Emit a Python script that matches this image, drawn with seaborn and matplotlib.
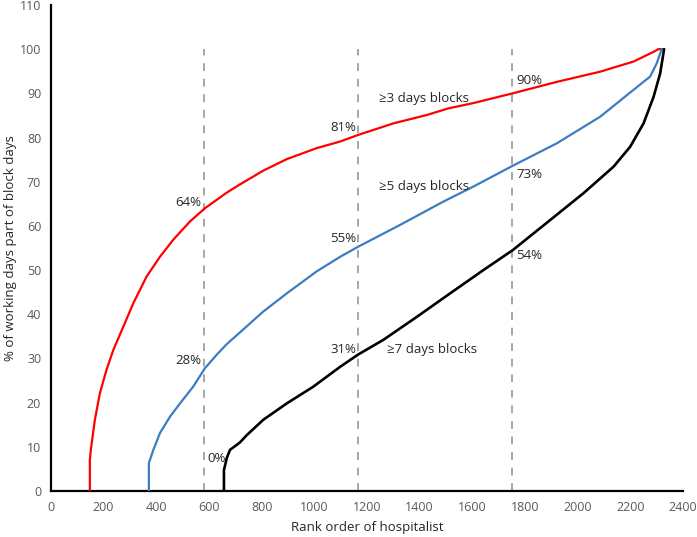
import matplotlib
matplotlib.use("Agg")
import matplotlib.pyplot as plt
import seaborn as sns
import pandas as pd

sns.set_theme(style="white")
plt.rcParams['font.family'] = ['Open Sans', 'DejaVu Sans']

# ---- data ----
red_x = [148, 148, 152, 167, 186, 211, 237, 275, 313, 363, 414, 465, 528, 585, 667,
         718, 806, 895, 1009, 1098, 1167, 1300, 1427, 1509, 1604, 1753, 1921, 2085,
         2212, 2288, 2306, 2328]
red_y = [0, 7, 9.5, 16.1, 22.1, 27.4, 31.9, 37.2, 42.5, 48.5, 53, 56.9, 61.0, 64.0, 67.5,
         69.4, 72.5, 75.1, 77.6, 79.1, 80.6, 83.2, 85.1, 86.6, 87.8, 90, 92.6, 94.9,
         97.2, 99.4, 100, 100]

blue_x = [372, 372, 389, 414, 452, 490, 540, 585, 629, 667, 718, 806, 895, 1009, 1098,
          1167, 1325, 1490, 1604, 1753, 1921, 2085, 2212, 2275, 2300, 2319, 2328]
blue_y = [0, 6.3, 9.3, 13.1, 16.8, 19.8, 23.6, 27.8, 30.8, 33.2, 35.9, 40.6, 44.7, 49.7, 53,
          55.3, 60.2, 65.5, 68.9, 73.6, 78.7, 84.7, 90.8, 93.8, 96.8, 100, 100]

black_x = [657, 657, 668, 680, 718, 743, 806, 895, 996, 1098, 1167, 1262, 1389, 1515,
           1642, 1753, 1895, 2022, 2136, 2199, 2250, 2288, 2313, 2328]
black_y = [0, 4.75, 7.5, 9.3, 11.0, 12.6, 16.1, 19.8, 23.6, 28.1, 30.9, 34.2, 39.4, 44.7,
           50, 54.5, 61.3, 67.4, 73.4, 77.9, 83.2, 89.2, 94.5, 100]

quartiles = [583, 1167, 1750]

pct_labels = ["64%", "28%", "0%", "81%", "55%", "31%", "90%", "73%", "54%"]
pct_x = [572, 572, 594, 1158, 1158, 1158, 1768, 1768, 1768]
pct_y = [65.2, 29.6, 7.4, 82.3, 57.2, 32.0, 92.8, 71.6, 53.2]
pct_ha = ["right", "right", "left", "right", "right", "right", "left", "left", "left"]

series_labels = ["\u22653 days blocks", "\u22655 days blocks", "\u22657 days blocks"]
series_lx = [1417, 1417, 1449]
series_ly = [88.9, 68.9, 32.0]

x_ticks = list(range(0, 2401, 200))
y_ticks = list(range(0, 111, 10))

# ---- plot ----
fig = plt.figure(figsize=(6.97, 5.37), dpi=100)
ax = fig.add_axes([0.073, 0.0857, 0.907, 0.905])

for q in quartiles:
    ax.plot([q, q], [0, 100], color="#A6A6A6", lw=1.4, ls=(0, (4, 4)), zorder=1)

df = pd.concat([
    pd.DataFrame({"x": red_x, "y": red_y, "s": "r"}),
    pd.DataFrame({"x": blue_x, "y": blue_y, "s": "b"}),
    pd.DataFrame({"x": black_x, "y": black_y, "s": "k"}),
])
palette = {"r": "#FF0000", "b": "#3B7DC0", "k": "#000000"}
for s, lw in [("r", 1.6), ("b", 1.6), ("k", 1.9)]:
    sub = df[df.s == s]
    sns.lineplot(x=sub.x.values, y=sub.y.values, ax=ax, color=palette[s], lw=lw,
                 sort=False, estimator=None, zorder=3)

for t, x, y, ha in zip(pct_labels, pct_x, pct_y, pct_ha):
    ax.text(x, y, t, ha=ha, va="center", fontsize=9.5, color="#262626", zorder=4)
for t, x, y in zip(series_labels, series_lx, series_ly):
    ax.text(x, y, t, ha="center", va="center", fontsize=9.5, color="#262626", zorder=4)

ax.set_xlim(0, 2400)
ax.set_ylim(0, 110)
ax.set_xticks(x_ticks)
ax.set_yticks(y_ticks)
ax.tick_params(axis="both", labelsize=9, labelcolor="#595959", direction="out",
               length=4, width=1.2, color="black", pad=3)
for side in ["top", "right"]:
    ax.spines[side].set_visible(False)
for side in ["left", "bottom"]:
    ax.spines[side].set_color("black")
    ax.spines[side].set_linewidth(1.6)
ax.set_xlabel("Rank order of hospitalist", fontsize=9.5, color="#262626", labelpad=5)
ax.set_ylabel("% of working days part of block days", fontsize=9.5, color="#262626", labelpad=2)

fig.savefig("out.png", dpi=100)
